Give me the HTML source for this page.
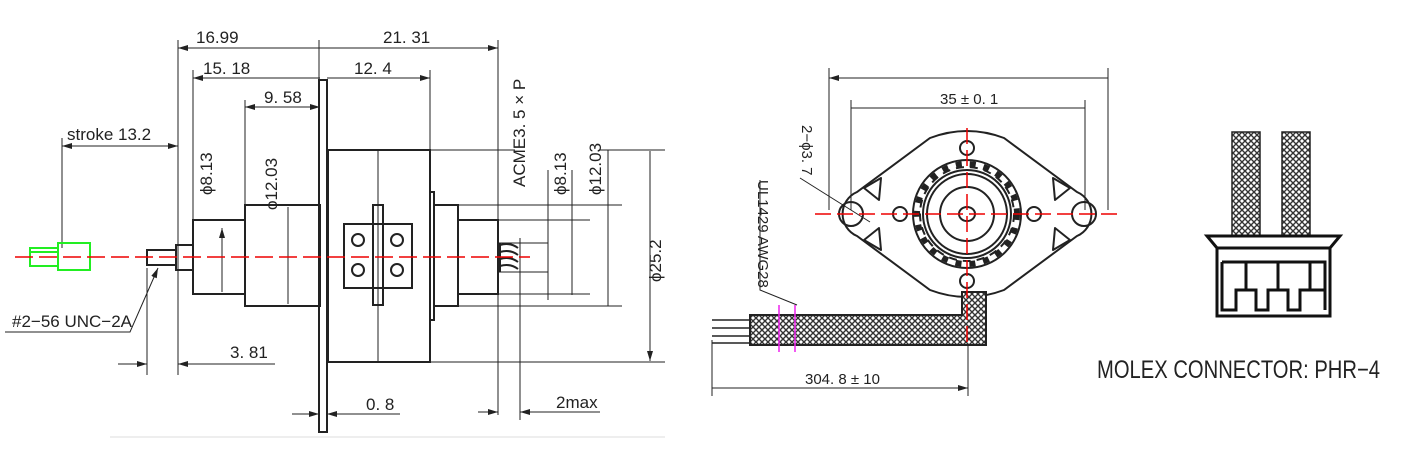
<!DOCTYPE html>
<html><head><meta charset="utf-8"><style>
html,body{margin:0;padding:0;background:#fff;}
svg{display:block;}
text{font-family:"Liberation Sans",sans-serif;fill:#222;}
</style></head><body>
<svg width="1410" height="450" viewBox="0 0 1410 450" xmlns="http://www.w3.org/2000/svg">
<defs>
<marker id="a" viewBox="0 0 10 6" refX="10" refY="3" markerWidth="10" markerHeight="6" orient="auto-start-reverse" markerUnits="userSpaceOnUse"><path d="M0,0 L10,3 L0,6z" fill="#222"/></marker>
<pattern id="hx" width="6" height="6" patternUnits="userSpaceOnUse"><rect width="6" height="6" fill="#fff"/><path d="M0,0L6,6M6,0L0,6" stroke="#333" stroke-width="1.4"/></pattern>
</defs>
<g stroke="#222" fill="none" stroke-width="1">
<path d="M178,40V375M193,70V228M245,100V206M430,70V150M498,40V415M62,138V248M147,268V375M319,40V80M520,238V420M548,170V300M572,170V295M608,150V306"/>
<path d="M431,150H515M458,205H622M458,220H590M498,243H548M498,272H548M430,362H665M600,150H665M458,294H590M458,306H622"/>
<path d="M178,48H320M320,48H498" marker-start="url(#a)" marker-end="url(#a)"/>
<path d="M193,78H320M327,78H430" marker-start="url(#a)" marker-end="url(#a)"/>
<path d="M245,107H320" marker-start="url(#a)" marker-end="url(#a)"/>
<path d="M62,146H178" marker-start="url(#a)" marker-end="url(#a)"/>
<path d="M222,228V292M288,207V304M548,200V290M572,221V294M608,206V305M650,151V361" marker-start="url(#a)" marker-end="url(#a)"/>
<path d="M118,364H147" marker-end="url(#a)"/><path d="M275,364H178" marker-end="url(#a)"/>
<path d="M292,414H319" marker-end="url(#a)"/><path d="M400,414H327" marker-end="url(#a)"/>
<path d="M478,412H498" marker-end="url(#a)"/><path d="M600,412H520" marker-end="url(#a)"/>
<path d="M5,332H130L158,268" marker-end="url(#a)"/>
<g stroke-width="2">
<rect x="147" y="250" width="29" height="15"/>
<rect x="176" y="245" width="17" height="25"/>
<rect x="193" y="220" width="52" height="74"/>
<rect x="245" y="205" width="75" height="101"/>
<rect x="319" y="80" width="8" height="352"/>
<rect x="328" y="150" width="102" height="212"/>
<rect x="344" y="224" width="68" height="64"/>
<rect x="373" y="205" width="10" height="100"/>
<rect x="430" y="192" width="4" height="128"/>
<rect x="434" y="205" width="24" height="101"/>
<rect x="458" y="220" width="40" height="74"/>
<path d="M500,245 q10,-3 18,3 M500,252 q10,-3 18,3 M500,259 q10,-3 18,3 M500,266 q10,-3 18,3 M500,243V272"/>
</g>
<path d="M378,150V362"/>
<circle cx="358" cy="240" r="6" stroke-width="2"/><circle cx="397" cy="240" r="6" stroke-width="2"/>
<circle cx="358" cy="270" r="6" stroke-width="2"/><circle cx="397" cy="270" r="6" stroke-width="2"/>
<path d="M110,437H665" stroke="#ddd"/>
</g>
<g stroke="#2e2" stroke-width="2" fill="none"><rect x="30" y="248" width="28" height="18"/><path d="M58,243H90V270H58ZM30,252H58"/></g>
<path d="M15,257H530" stroke="#e00" stroke-width="1.5" stroke-dasharray="18,6"/>
<g font-size="17">
<text x="196" y="43">16.99</text><text x="383" y="43">21. 31</text>
<text x="203" y="74">15. 18</text><text x="354" y="74">12. 4</text>
<text x="264" y="103">9. 58</text><text x="67" y="140">stroke 13.2</text>
<text x="12" y="327">#2−56 UNC−2A</text><text x="230" y="358">3. 81</text>
<text x="366" y="410">0. 8</text><text x="556" y="408">2max</text>
<text transform="translate(212,195) rotate(-90)">ϕ8.13</text>
<text transform="translate(277,210) rotate(-90)">ϕ12.03</text>
<text transform="translate(525,187) rotate(-90)">ACME3. 5 × P</text>
<text transform="translate(566,195) rotate(-90)">ϕ8.13</text>
<text transform="translate(601,195) rotate(-90)">ϕ12.03</text>
<text transform="translate(661,282) rotate(-90)">ϕ25.2</text>
</g>
<!-- right drawing -->
<g stroke="#222" fill="none" stroke-width="1">
<path d="M829,68V210M1108,68V210M851,100V210M1085,100V210M712,340V396M968,300V396"/>
<path d="M829,78H1108M851,108H1085M712,388H968" marker-start="url(#a)" marker-end="url(#a)"/>
<path d="M800,178L870,222M760,180V290L797,305"/>
<g stroke-width="2">
<path d="M930,138 Q967,124 1004,138 L1077,192 A24,24 0 0 1 1077,236 L1004,290 Q967,304 930,290 L857,236 A24,24 0 0 1 857,192 Z"/>
<circle cx="851" cy="214" r="12"/><circle cx="1084" cy="214" r="12"/>
<circle cx="967" cy="148" r="7"/><circle cx="967" cy="281" r="7"/>
<circle cx="900" cy="214" r="7"/><circle cx="1034" cy="214" r="7"/>
<path d="M864,188l17,-10l-2,22z M864,240l17,10l-2,-22z M1070,188l-17,-10l2,22z M1070,240l-17,10l2,-22z" stroke-linejoin="round"/>
<circle cx="967" cy="214" r="54"/>
<circle cx="967" cy="214" r="47" stroke-dasharray="8,6"/>
<circle cx="967" cy="214" r="44"/>
<circle cx="967" cy="214" r="40"/>
<circle cx="967" cy="214" r="27"/>
<ellipse cx="967" cy="214" rx="8" ry="7"/>
</g>
<circle cx="967" cy="214" r="50" stroke-width="6" stroke-dasharray="6,8"/>
</g>
<path d="M750,315H962V292H986V345H750Z" fill="url(#hx)" stroke="#222" stroke-width="2"/>
<path d="M712,320H750M712,328H750M712,336H750M712,343H750" stroke="#222" stroke-width="1.5"/>
<path d="M779,305V352M795,305V352" stroke="#e2e" stroke-width="1.5"/>
<path d="M815,214H1122M967,128V345" stroke="#e00" stroke-width="1.5" stroke-dasharray="16,6"/>
<g font-size="15">
<text x="940" y="104">35 ± 0. 1</text>
<text x="805" y="384">304. 8 ± 10</text>
<text transform="translate(802,125) rotate(90)">2−ϕ3. 7</text>
<text transform="translate(758,180) rotate(90)">UL1429 AWG28</text>
</g>
<!-- connector -->
<rect x="1232" y="132" width="28" height="104" fill="url(#hx)" stroke="#222" stroke-width="1.5"/>
<rect x="1282" y="132" width="28" height="104" fill="url(#hx)" stroke="#222" stroke-width="1.5"/>
<g stroke="#111" stroke-width="3" fill="none">
<path d="M1207,236H1340L1330,248H1217Z"/>
<path d="M1217,248V316H1330V248"/>
<path d="M1222,262H1325V310M1222,262V310H1236V300M1246,262V290H1236V300M1246,290H1256V310H1268V300M1278,262V290H1268V300M1278,290H1288V310H1300V300M1310,262V290H1300V300M1310,290H1325"/>
</g>
<text x="1097" y="378" font-size="25" textLength="283" lengthAdjust="spacingAndGlyphs">MOLEX CONNECTOR: PHR−4</text>
</svg>
</body></html>
